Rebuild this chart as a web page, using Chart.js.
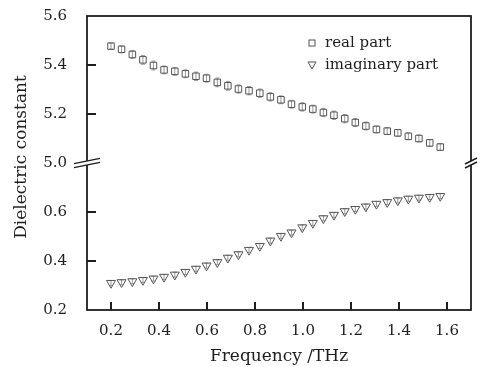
<!DOCTYPE html>
<html>
<head>
<meta charset="utf-8">
<script src="https://cdn.jsdelivr.net/npm/chart.js@4.4.1/dist/chart.umd.min.js"></script>
<style>
  html, body { margin: 0; padding: 0; background: #fff; }
  #wrap { width: 480px; height: 367px; }
</style>
</head>
<body>
<div id="wrap"><canvas id="chart" width="480" height="367"></canvas></div>
<script>
// frequency points, THz
const freq = [0.200, 0.244, 0.289, 0.333, 0.377, 0.421, 0.466, 0.510, 0.554, 0.598, 0.643,
  0.687, 0.731, 0.775, 0.820, 0.864, 0.908, 0.952, 0.997, 1.041, 1.085, 1.129,
  1.174, 1.218, 1.262, 1.306, 1.351, 1.395, 1.439, 1.483, 1.528, 1.572];

const realPart = [5.477, 5.464, 5.443, 5.421, 5.398, 5.380, 5.374, 5.364, 5.354, 5.346, 5.329,
  5.315, 5.302, 5.295, 5.285, 5.270, 5.258, 5.240, 5.229, 5.220, 5.206, 5.195,
  5.181, 5.165, 5.151, 5.137, 5.130, 5.123, 5.109, 5.100, 5.082, 5.065];
const realErr = [0.012, 0.014, 0.016, 0.018, 0.018, 0.016, 0.016, 0.016, 0.017, 0.016, 0.018,
  0.018, 0.017, 0.017, 0.017, 0.017, 0.016, 0.016, 0.017, 0.016, 0.017, 0.017,
  0.017, 0.016, 0.016, 0.014, 0.014, 0.014, 0.014, 0.014, 0.014, 0.014];

const imagPart = [0.310, 0.313, 0.317, 0.322, 0.328, 0.335, 0.344, 0.355, 0.368, 0.381, 0.395,
  0.413, 0.427, 0.445, 0.461, 0.483, 0.502, 0.516, 0.537, 0.555, 0.574, 0.588,
  0.603, 0.612, 0.622, 0.633, 0.640, 0.647, 0.654, 0.658, 0.661, 0.665];
const imagErr = [0.010, 0.010, 0.010, 0.010, 0.010, 0.010, 0.010, 0.010, 0.010, 0.010, 0.010,
  0.010, 0.010, 0.010, 0.010, 0.010, 0.010, 0.010, 0.010, 0.010, 0.010, 0.010,
  0.010, 0.010, 0.010, 0.010, 0.010, 0.010, 0.010, 0.010, 0.010, 0.010];

const xTicks = [0.2, 0.4, 0.6, 0.8, 1.0, 1.2, 1.4, 1.6];
const upperTicks = [5.0, 5.2, 5.4, 5.6];
const lowerTicks = [0.2, 0.4, 0.6];

const seriesNames = ["real part", "imaginary part"];

const ink = "#1e1e1e";
const markerInk = "#555";
const errInk = "#9a9a9a";
const serif = "'DejaVu Serif', serif";

function points(ys) {
  return freq.map((f, i) => ({ x: f, y: ys[i] }));
}

function fixedTicks(list) {
  return (s) => { s.ticks = list.map((v) => ({ value: v })); };
}

// whiskers under each marker
const errorBars = {
  id: "errorBars",
  beforeDatasetsDraw(chart) {
    const ctx = chart.ctx;
    const xs = chart.scales.x;
    ctx.save();
    ctx.strokeStyle = errInk;
    ctx.lineWidth = 1;
    chart.data.datasets.forEach((ds) => {
      const ys = chart.scales[ds.yAxisID];
      ds.data.forEach((p, i) => {
        const px = xs.getPixelForValue(p.x);
        const top = ys.getPixelForValue(p.y + ds.err[i]);
        const bot = ys.getPixelForValue(p.y - ds.err[i]);
        ctx.beginPath();
        ctx.moveTo(px, top); ctx.lineTo(px, bot);
        ctx.moveTo(px - 2, top); ctx.lineTo(px + 2, top);
        ctx.moveTo(px - 2, bot); ctx.lineTo(px + 2, bot);
        ctx.stroke();
      });
    });
    ctx.restore();
  },
};

// inward tick marks on the bottom and left edges
const innerTicks = {
  id: "innerTicks",
  afterDatasetsDraw(chart) {
    const ctx = chart.ctx;
    const a = chart.chartArea;
    const xs = chart.scales.x;
    const yr = chart.scales.yReal;
    const yi = chart.scales.yImag;
    ctx.save();
    ctx.strokeStyle = ink;
    ctx.lineWidth = 2;
    xTicks.forEach((v) => {
      const px = Math.round(xs.getPixelForValue(v));
      ctx.beginPath();
      ctx.moveTo(px, a.bottom);
      ctx.lineTo(px, a.bottom - 8);
      ctx.stroke();
    });
    const ys = [
      ...upperTicks.slice(1, -1).map((v) => yr.getPixelForValue(v)),
      ...lowerTicks.slice(1).map((v) => yi.getPixelForValue(v)),
    ];
    ys.forEach((py) => {
      ctx.beginPath();
      ctx.moveTo(a.left, Math.round(py));
      ctx.lineTo(a.left + 9, Math.round(py));
      ctx.stroke();
    });
    ctx.restore();
  },
};

// box frame, axis break, y title and legend
const frame = {
  id: "frame",
  afterDraw(chart) {
    const ctx = chart.ctx;
    const a = chart.chartArea;
    const yr = chart.scales.yReal;
    ctx.save();
    ctx.strokeStyle = ink;
    ctx.lineWidth = 1.8;
    ctx.strokeRect(a.left, a.top, a.right - a.left, a.bottom - a.top);

    // break marks at the joint of the two axes
    const jy = yr.bottom;
    const cut = (x0, x1, slope) => {
      const y0 = jy + 2 - (x0 - (x0 + x1) / 2) * slope;
      const y1 = jy + 2 - (x1 - (x0 + x1) / 2) * slope;
      ctx.fillStyle = "#fff";
      ctx.beginPath();
      ctx.moveTo(x0, y0); ctx.lineTo(x1, y1);
      ctx.lineTo(x1, y1 - 4); ctx.lineTo(x0, y0 - 4);
      ctx.closePath();
      ctx.fill();
      ctx.lineWidth = 1.4;
      ctx.beginPath();
      ctx.moveTo(x0, y0); ctx.lineTo(x1, y1);
      ctx.moveTo(x0, y0 - 4); ctx.lineTo(x1, y1 - 4);
      ctx.stroke();
    };
    cut(a.left - 13, a.left + 13, 0.2);
    cut(a.right - 6, a.right + 6, 0.5);

    ctx.fillStyle = ink;
    ctx.font = "17px " + serif;
    ctx.textAlign = "center";
    ctx.textBaseline = "middle";
    ctx.translate(22, (a.top + a.bottom) / 2 - 6);
    ctx.rotate(-Math.PI / 2);
    ctx.fillText("Dielectric constant", 0, 0);
    ctx.restore();

    // legend
    ctx.save();
    ctx.strokeStyle = markerInk;
    ctx.lineWidth = 1;
    ctx.strokeRect(309, 40, 6, 6);
    ctx.beginPath();
    ctx.moveTo(308, 62); ctx.lineTo(316, 62); ctx.lineTo(312, 69); ctx.closePath();
    ctx.stroke();
    ctx.fillStyle = ink;
    ctx.font = "15px " + serif;
    ctx.textBaseline = "middle";
    ctx.fillText(seriesNames[0], 325, 43);
    ctx.fillText(seriesNames[1], 325, 65);
    ctx.restore();
  },
};

const tickFont = { family: serif, size: 15 };

function noPad(s) {
  s.paddingTop = 0;
  s.paddingBottom = 0;
  s.paddingLeft = 0;
  s.paddingRight = 0;
}

new Chart(document.getElementById("chart"), {
  type: "scatter",
  data: {
    datasets: [
      {
        label: seriesNames[0],
        data: points(realPart),
        err: realErr,
        yAxisID: "yReal",
        pointStyle: "rect",
        pointRadius: 4.6,
        borderColor: markerInk,
        backgroundColor: "rgba(0,0,0,0)",
        borderWidth: 1,
      },
      {
        label: seriesNames[1],
        data: points(imagPart),
        err: imagErr,
        yAxisID: "yImag",
        pointStyle: "triangle",
        rotation: 180,
        pointRadius: 5.2,
        borderColor: markerInk,
        backgroundColor: "rgba(0,0,0,0)",
        borderWidth: 1,
      },
    ],
  },
  options: {
    responsive: false,
    animation: false,
    events: [],
    layout: { padding: { top: 16, right: 9, left: 0, bottom: 0 } },
    plugins: { legend: { display: false }, tooltip: { enabled: false } },
    scales: {
      x: {
        type: "linear",
        min: 0.1,
        max: 1.7,
        grid: { display: false },
        border: { display: false },
        afterBuildTicks: fixedTicks(xTicks),
        ticks: {
          padding: 4,
          color: ink,
          font: tickFont,
          maxRotation: 0,
          autoSkip: false,
          callback: (v) => v.toFixed(1),
        },
        title: {
          display: true,
          text: "Frequency /THz",
          color: ink,
          font: { family: serif, size: 17 },
          padding: { top: 2, bottom: 0 },
        },
        afterFit: (s) => { s.height = 57; noPad(s); },
      },
      yImag: {
        type: "linear",
        position: "left",
        stack: "eps",
        stackWeight: 1,
        min: 0.2,
        max: 0.8,
        grid: { display: false },
        border: { display: false },
        afterBuildTicks: fixedTicks(lowerTicks),
        ticks: {
          padding: 12,
          color: ink,
          font: tickFont,
          callback: (v) => v.toFixed(1),
        },
        afterFit: (s) => { s.width = 87; noPad(s); },
      },
      yReal: {
        type: "linear",
        position: "left",
        stack: "eps",
        stackWeight: 1,
        min: 5.0,
        max: 5.6,
        grid: { display: false },
        border: { display: false },
        afterBuildTicks: fixedTicks(upperTicks),
        ticks: {
          padding: 12,
          color: ink,
          font: tickFont,
          callback: (v) => v.toFixed(1),
        },
        afterFit: (s) => { s.width = 87; noPad(s); },
      },
    },
  },
  plugins: [errorBars, innerTicks, frame],
});
</script>
</body>
</html>
